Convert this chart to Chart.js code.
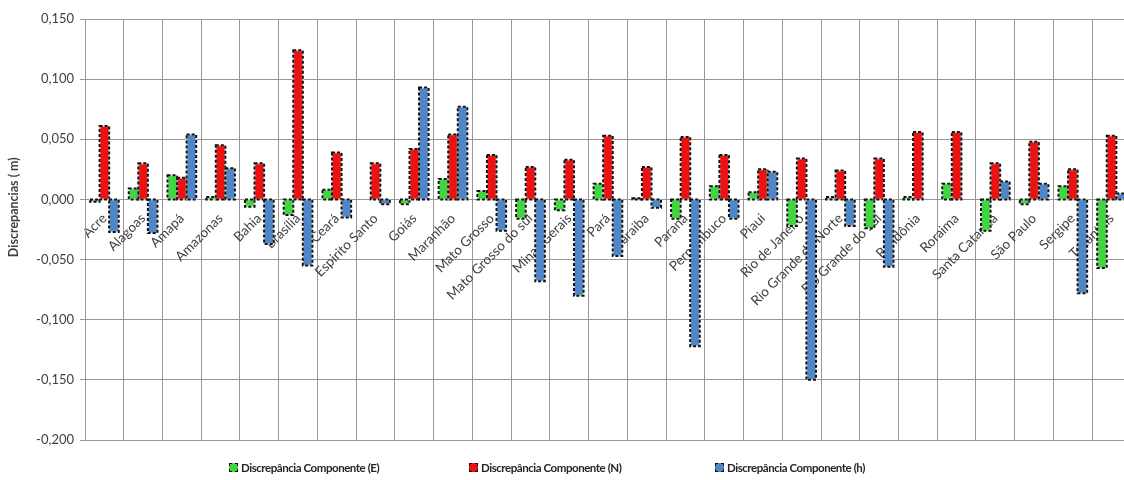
<!DOCTYPE html>
<html>
<head>
<meta charset="utf-8">
<script src="https://cdn.jsdelivr.net/npm/chart.js@4.4.0/dist/chart.umd.min.js"></script>
<style>
  html, body { margin: 0; padding: 0; background: #fff; overflow: hidden; width: 1124px; height: 480px; }
  #wrap { position: absolute; left: 0; top: 0; width: 1134px; height: 480px; }
  #legend { position: absolute; left: 0; top: 459px; width: 1124px; height: 18px;
            font: bold 11.5px Lato, sans-serif; letter-spacing: -0.45px; color: #262626; }
  .item { position: absolute; top: 0; display: flex; align-items: center; white-space: nowrap; height: 16px; }
  .swatch { width: 7px; height: 7px; margin-right: 3px; border: 1px dashed #111; }
</style>
</head>
<body>
<div id="wrap"><canvas id="c"></canvas></div>
<div id="legend"></div>
<script>
// Brazilian states (category axis)
const categories = ['Acre', 'Alagoas', 'Amapá', 'Amazonas', 'Bahia', 'Brasília', 'Ceará',
  'Espirito Santo', 'Goiás', 'Maranhão', 'Mato Grosso', 'Mato Grosso do sul', 'Minas Gerais',
  'Pará', 'Paraiba', 'Paraná', 'Pernambuco', 'Piaui', 'Rio de Janeiro', 'Rio Grande do Norte',
  'Rio Grande do Sul', 'Rondônia', 'Roraima', 'Santa Catarina', 'São Paulo', 'Sergipe', 'Tocantins'];

const seriesNames = ['Discrepância Componente (E)', 'Discrepância Componente (N)', 'Discrepância Componente (h)'];

// Discrepancies in metres per component
const compE = [-0.002, 0.009, 0.020, 0.002, -0.006, -0.013, 0.008, 0.000, -0.004, 0.017,
  0.007, -0.016, -0.009, 0.013, 0.001, -0.016, 0.011, 0.006, -0.022, 0.002,
  -0.024, 0.002, 0.013, -0.026, -0.004, 0.011, -0.057];
const compN = [0.061, 0.030, 0.018, 0.045, 0.030, 0.124, 0.039, 0.030, 0.042, 0.054,
  0.037, 0.027, 0.033, 0.053, 0.027, 0.052, 0.037, 0.025, 0.034, 0.024,
  0.034, 0.056, 0.056, 0.030, 0.048, 0.025, 0.053];
const compH = [-0.027, -0.028, 0.054, 0.026, -0.037, -0.055, -0.015, -0.004, 0.093, 0.077,
  -0.026, -0.068, -0.080, -0.047, -0.007, -0.122, -0.016, 0.023, -0.150, -0.022,
  -0.056, 0.000, 0.000, 0.015, 0.013, -0.078, 0.005];

// Value axis range and step
const yMin = -0.2, yMax = 0.15, yStep = 0.05;
const yTitle = 'Discrepancias ( m)';

const fills = ['#3fd63f', '#ee1111', '#4f86c8'];
const gridColor = '#979797';
const textColor = '#404040';

const fmt = v => (Math.abs(v) < 1e-9 ? 0 : v).toFixed(3).replace('.', ',');

// Dashed black outline around every bar
const dashedOutline = {
  id: 'dashedOutline',
  afterDatasetsDraw(chart) {
    const ctx = chart.ctx;
    ctx.save();
    chart.data.datasets.forEach((ds, i) => {
      const meta = chart.getDatasetMeta(i);
      meta.data.forEach((bar, j) => {
        if (!ds.data[j]) return;
        const p = bar.getProps(['x', 'y', 'base', 'width'], true);
        const left = p.x - p.width / 2;
        const top = Math.min(p.y, p.base);
        const h = Math.abs(p.base - p.y);
        ctx.lineWidth = 2;
        ctx.setLineDash([]);
        ctx.strokeStyle = 'rgba(255,255,255,0.55)';
        ctx.strokeRect(left, top, p.width, h);
        ctx.setLineDash([3, 2]);
        ctx.strokeStyle = '#111';
        ctx.strokeRect(left, top, p.width, h);
      });
    });
    ctx.restore();
  }
};

// Vertical value-axis title, set a little above the axis middle
const valueAxisTitle = {
  id: 'valueAxisTitle',
  afterDraw(chart) {
    const ctx = chart.ctx;
    const area = chart.chartArea;
    ctx.save();
    ctx.translate(14, area.top + (area.bottom - area.top) * 0.447);
    ctx.rotate(-Math.PI / 2);
    ctx.font = 'bold 12.5px Lato';
    ctx.fillStyle = textColor;
    ctx.textAlign = 'center';
    ctx.textBaseline = 'middle';
    ctx.fillText(yTitle, 0, 0);
    ctx.restore();
  }
};

const datasets = [compE, compN, compH].map((vals, i) => ({
  label: seriesNames[i],
  data: vals,
  backgroundColor: fills[i],
  borderWidth: 0,
  categoryPercentage: 0.74,
  barPercentage: 1.0
}));

new Chart(document.getElementById('c'), {
  type: 'bar',
  data: { labels: categories, datasets },
  plugins: [dashedOutline, valueAxisTitle],
  options: {
    responsive: true,
    maintainAspectRatio: false,
    animation: false,
    layout: { padding: { top: 19, right: 0, bottom: 40, left: 0 } },
    plugins: { legend: { display: false }, tooltip: { enabled: false } },
    scales: {
      x: {
        position: { y: 0 },
        grid: { offset: true, color: gridColor, lineWidth: 1, drawTicks: false },
        border: { display: false },
        ticks: {
          autoSkip: false, minRotation: 45, maxRotation: 45, padding: 11,
          color: textColor, font: { family: 'Lato', size: 13.5 }
        },
        afterFit(s) { s.height = 0; }
      },
      y: {
        min: yMin, max: yMax,
        ticks: {
          stepSize: yStep, padding: 6, color: textColor,
          font: { family: 'Lato', size: 13 },
          callback: v => fmt(v)
        },
        grid: { color: gridColor, lineWidth: 1, tickLength: 5 },
        border: { color: gridColor },
        afterFit(s) { s.width = 85; }
      }
    }
  }
});

// Legend row below the plot
const legendX = [229, 469, 715];
const legend = document.getElementById('legend');
seriesNames.forEach((name, i) => {
  const item = document.createElement('div');
  item.className = 'item';
  item.style.left = legendX[i] + 'px';
  const sw = document.createElement('span');
  sw.className = 'swatch';
  sw.style.background = fills[i];
  const tx = document.createElement('span');
  tx.textContent = name;
  item.appendChild(sw);
  item.appendChild(tx);
  legend.appendChild(item);
});
</script>
</body>
</html>
